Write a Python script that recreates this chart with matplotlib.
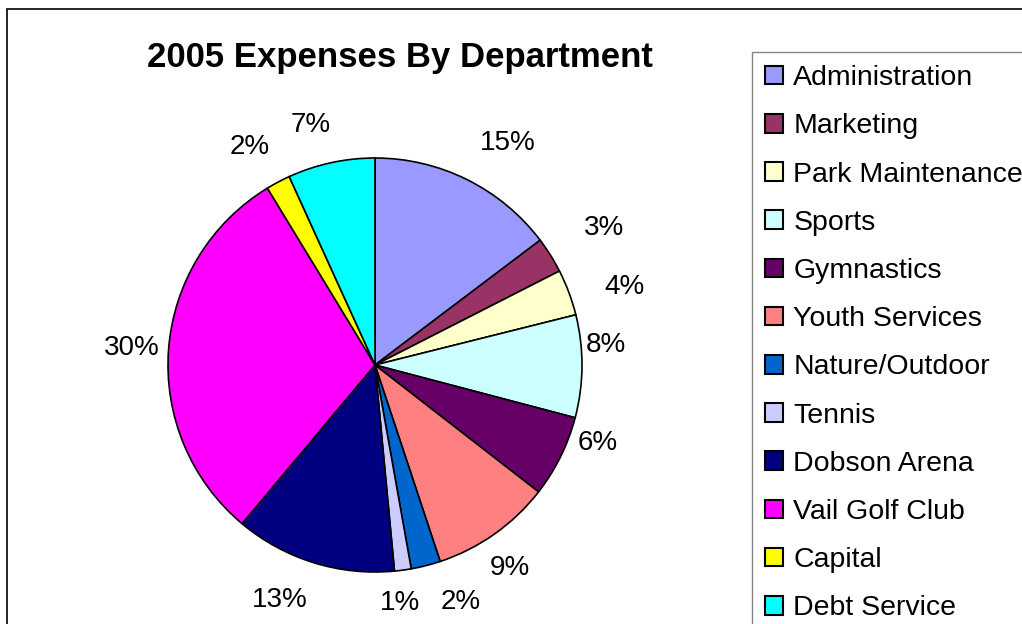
import numpy as np
import matplotlib.pyplot as plt
from matplotlib.patches import Patch, Rectangle

plt.rcParams['font.family'] = ['Liberation Sans', 'DejaVu Sans']

# departments and share of 2005 expenses (percent)
departments = ["Administration", "Marketing", "Park Maintenance", "Sports",
               "Gymnastics", "Youth Services", "Nature/Outdoor", "Tennis",
               "Dobson Arena", "Vail Golf Club", "Capital", "Debt Service"]
shares = [14.7, 2.8, 3.6, 8.0, 6.4, 9.4, 2.3, 1.3, 12.6, 30.2, 1.9, 6.8]
colors = ["#9999FF", "#993366", "#FFFFCC", "#CCFFFF", "#660066", "#FF8080",
          "#0066CC", "#CCCCFF", "#000080", "#FF00FF", "#FFFF00", "#00FFFF"]

# label placement like the spreadsheet did it: radial distance (in radii)
# and a small angular nudge (deg) from the wedge middle
label_dist = [1.25, 1.29, 1.265, 1.12, 1.14, 1.18, 1.22, 1.156, 1.225,
              1.177, 1.214, 1.2]
label_nudge = [-4.4, -1.1, -3.2, 5.3, 7.0, -1.7, 5.7, -1.7, -4.7, 0.3,
               1.9, 2.7]

W, H = 1022, 624
fig = plt.figure(figsize=(W / 100, H / 100), dpi=100)

# outer chart frame (runs off the right and bottom edge)
fig.patches.append(Rectangle((7 / W, -0.1), 1.2, 1 - 9 / H + 0.1,
                             transform=fig.transFigure, fill=False,
                             edgecolor="#000000", linewidth=1.2))

# pie area: centre (375, 365) px, radius ~207 px
cx, cy, r = 375, 365, 207
ax = fig.add_axes([(cx - r) / W, (H - cy - r) / H, 2 * r / W, 2 * r / H])
wedges, texts, autotexts = ax.pie(
    shares, colors=colors, startangle=90, counterclock=False,
    autopct=lambda p: "%d%%" % round(p), pctdistance=1.2,
    wedgeprops=dict(edgecolor="black", linewidth=1.2),
    textprops=dict(fontsize=20, color="black"))
for w, t, d, n in zip(wedges, autotexts, label_dist, label_nudge):
    ang = np.deg2rad((w.theta1 + w.theta2) / 2 + n)
    t.set_position((d * np.cos(ang), d * np.sin(ang)))
    t.set_ha("center")
    t.set_va("center")
ax.set_xlim(-1, 1)
ax.set_ylim(-1, 1)
ax.set_aspect("equal")
ax.axis("off")

fig.text(400 / W, 1 - 57 / H, "2005 Expenses By Department",
         ha="center", va="center", fontsize=25, fontweight="bold")

handles = [Patch(facecolor=c, edgecolor="black", linewidth=1.5) for c in colors]
leg = fig.legend(handles, departments, loc="upper left",
                 bbox_to_anchor=(752 / W, 1 - 52 / H), fontsize=20.5,
                 frameon=True, fancybox=False, borderaxespad=0,
                 handlelength=0.63, handleheight=0.63, handletextpad=0.36,
                 labelspacing=0.78, borderpad=0.46)
leg.get_frame().set_edgecolor("#666666")
leg.get_frame().set_linewidth(1.0)

fig.savefig("out.png", dpi=100)
